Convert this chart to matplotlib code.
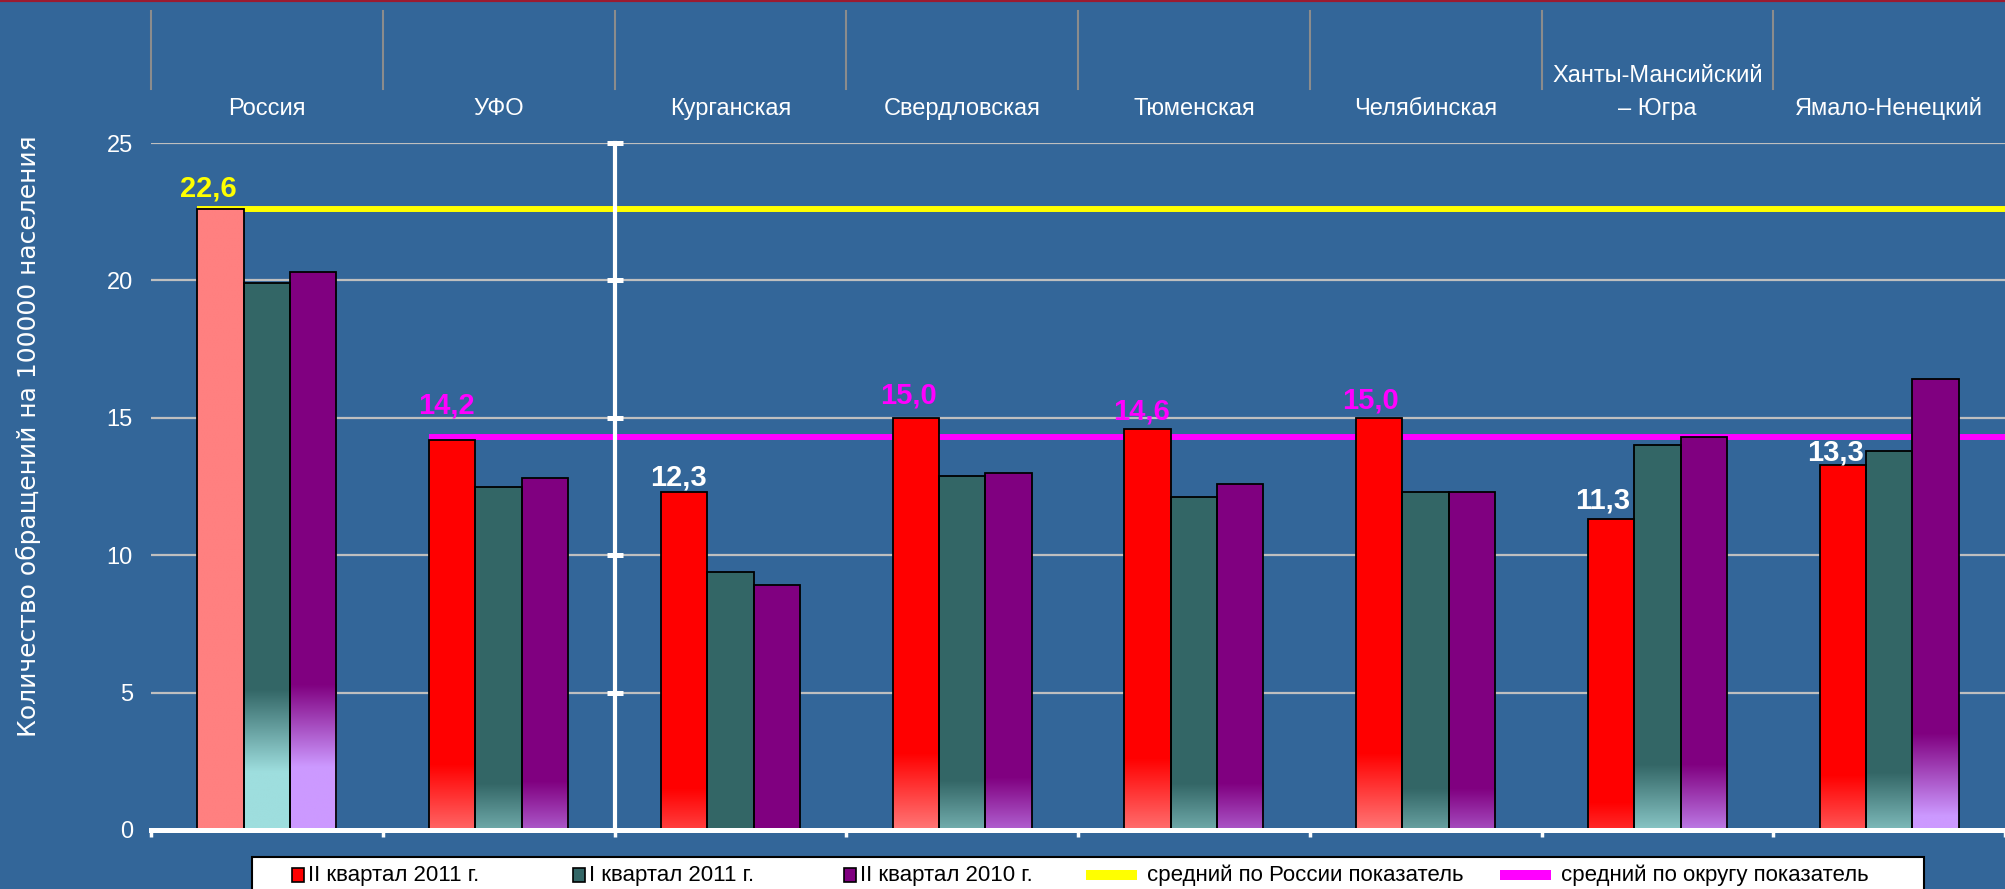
import numpy as np
import matplotlib
matplotlib.use('Agg')
import matplotlib.pyplot as plt
from matplotlib.patches import Rectangle
from matplotlib.lines import Line2D
from matplotlib.colors import to_rgb
from matplotlib import transforms

plt.rcParams['font.family'] = ['Liberation Sans', 'DejaVu Sans']

# --- data ---
regions = ['Россия', 'УФО', 'Курганская', 'Свердловская', 'Тюменская',
           'Челябинская', 'Ханты-Мансийский\n– Югра', 'Ямало-Ненецкий']
q2_2011 = [22.6, 14.2, 12.3, 15.0, 14.6, 15.0, 11.3, 13.3]
q1_2011 = [19.9, 12.5, 9.4, 12.9, 12.1, 12.3, 14.0, 13.8]
q2_2010 = [20.3, 12.8, 8.9, 13.0, 12.6, 12.3, 14.3, 16.4]
russia_avg = 22.6
district_avg = 14.3
series_names = ['II квартал 2011 г.', 'I квартал 2011 г.', 'II квартал 2010 г.']
line_names = ['средний по России показатель', 'средний по округу показатель']
ylabel = 'Количество обращений на 100000 населения'

# --- style ---
BG = '#336699'
colors = ['#FF0000', '#336666', '#800080']
light = ['#FF8080', '#9EDEDE', '#CC99FF']
line_colors = ['#FFFF00', '#FF00FF']
# height where the pale fade at the bottom of each bar begins
fade_top = [[26.0, 2.4, 1.5, 2.8, 2.6, 2.8, 1.0, 2.0],
            [5.1, 1.7, 0.0, 1.8, 1.7, 1.5, 2.4, 2.1],
            [5.3, 1.75, 0.0, 1.9, 1.7, 1.5, 2.4, 3.5]]
label_colors = ['#FFFF00', '#FF00FF', 'white', '#FF00FF', '#FF00FF',
                '#FF00FF', 'white', 'white']
label_raise = [9, 19, 5, 10, 7, 7, 8, 3]   # points above bar top
label_shift = [-9, -4, -4, -5, -4, -6, -6, -5]

W, H = 2005, 889
fig = plt.figure(figsize=(W / 100, H / 100), dpi=100, facecolor=BG)
ax = fig.add_axes([151 / W, 59 / H, 1 - 151 / W, (830 - 143) / H])
ax.set_facecolor(BG)

x = np.arange(len(regions))
w = 0.2
series = [q2_2011, q1_2011, q2_2010]

for j, vals in enumerate(series):
    xs = x + (j - 1) * w
    ax.bar(xs, vals, width=w, color=colors[j], linewidth=0, zorder=2)
    for i, v in enumerate(vals):
        top = fade_top[j][i]
        if top <= 0:
            continue
        h = min(top, v)
        ys = np.linspace(0, h, 200)
        t = np.clip((top - ys) / 3.0, 0, 1)[:, None]
        rgb = np.array(to_rgb(colors[j])) * (1 - t) + np.array(to_rgb(light[j])) * t
        ax.imshow(rgb[:, None, :], extent=[xs[i] - w / 2, xs[i] + w / 2, 0, h],
                  origin='lower', aspect='auto', interpolation='bilinear', zorder=2.2)
    ax.bar(xs, vals, width=w, fill=False, edgecolor='black', linewidth=1.3, zorder=2.4)

# average lines
ax.hlines(russia_avg, -1.5 * w, 7.5, color=line_colors[0], lw=4.3, zorder=1.8)
ax.hlines(district_avg, 1 - 1.5 * w, 7.5, color=line_colors[1], lw=4.3, zorder=1.8)

# value labels above the first series
for i, v in enumerate(q2_2011):
    ax.annotate(f'{v:.1f}'.replace('.', ','), (x[i] - w, v),
                xytext=(label_shift[i], label_raise[i]), textcoords='offset points',
                ha='center', va='baseline', fontsize=21, fontweight='bold',
                color=label_colors[i], zorder=5)

# divider between federal and regional groups
ax.plot([1.5, 1.5], [0, 25], color='white', lw=3, zorder=2.6, clip_on=False)
ax.plot([1.5] * 6, np.arange(0, 26, 5), ls='none', marker='_', ms=11, mew=3.6,
        color='white', zorder=2.7, clip_on=False)

ax.set_xlim(-0.5, 7.5)
ax.set_ylim(0, 25)
ax.set_yticks(np.arange(0, 26, 5))
ax.set_xticks(np.arange(-0.5, 8, 1))
ax.set_xticklabels([])
ax.yaxis.grid(True, color='#BFBFBF', lw=1.6)
ax.set_axisbelow(True)
for s in ['top', 'right', 'left']:
    ax.spines[s].set_visible(False)
ax.spines['bottom'].set_color('white')
ax.spines['bottom'].set_linewidth(3.6)
ax.tick_params(axis='x', length=5, width=2.5, color='white', direction='out')
ax.tick_params(axis='y', length=0, pad=13, labelsize=17, labelcolor='white')

# category labels and separators above the plot
blend = transforms.blended_transform_factory(ax.transData, fig.transFigure)
for i, name in enumerate(regions):
    for k, line in enumerate(reversed(name.split('\n'))):
        ax.text(i, 1 - (115 - 33 * k) / H, line, transform=blend, ha='center',
                va='baseline', fontsize=17, color='white')
for b in np.arange(-0.5, 7, 1):
    ax.plot([b, b], [1 - 11 / H, 1 - 89 / H], transform=blend, color='#8C8C8C',
            lw=1.5, clip_on=False)

fig.text(28 / W, 1 - 436 / H, ylabel, rotation=90, ha='center', va='center',
         fontsize=18, color='white', family='DejaVu Sans')

# legend box (cut by the bottom edge like the original)
lax = fig.add_axes([0, 0, 1, 1], facecolor='none')
lax.set_xlim(0, W)
lax.set_ylim(H, 0)
lax.axis('off')
lax.add_patch(Rectangle((252, 857), 1924 - 252, 60, facecolor='white',
                        edgecolor='black', lw=1.5, clip_on=False))
sq_x = [292, 573, 844]
for j, name in enumerate(series_names):
    lax.add_patch(Rectangle((sq_x[j], 868), 12, 14, facecolor=colors[j],
                            edgecolor='black', lw=1.2))
    lax.text(sq_x[j] + 16, 875, name, ha='left', va='center', fontsize=16,
             color='black')
ln_x = [1086, 1500]
for j, name in enumerate(line_names):
    lax.add_patch(Rectangle((ln_x[j], 870), 51, 10, facecolor=line_colors[j],
                            edgecolor='none'))
    lax.text(ln_x[j] + 61, 875, name, ha='left', va='center', fontsize=16,
             color='black')

fig.add_artist(Line2D([0, 1], [1, 1], transform=fig.transFigure,
                      color='#9B1B30', lw=3))

fig.savefig('out.png', dpi=100, facecolor=BG)
